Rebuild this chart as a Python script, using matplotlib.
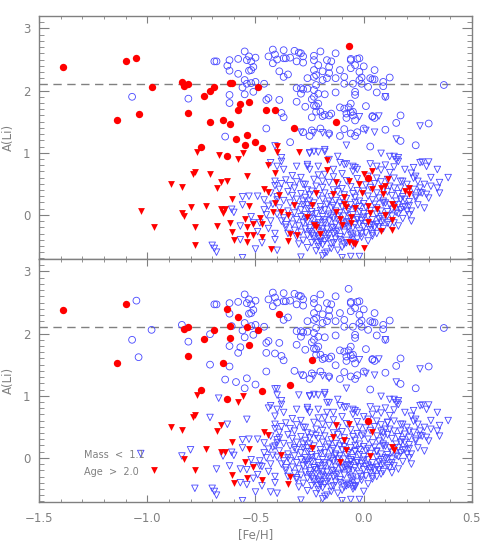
import numpy as np
import matplotlib
matplotlib.use("Agg")
import matplotlib.pyplot as plt
from matplotlib.ticker import MultipleLocator

# --- data ([Fe/H], A(Li)) ---
# detections (circles)
circ_red_both = np.array([
    (-1.39, 2.38), (-1.10, 2.47), (-1.14, 1.53), (-0.83, 2.07), (-0.81, 2.11),
    (-0.81, 1.64), (-0.74, 1.91), (-0.69, 2.05), (-0.65, 1.53), (-0.62, 2.12),
    (-0.53, 1.82), (-0.75, 1.10), (-0.63, 0.94), (-0.49, 2.05), (-0.47, 1.08),
    (0.02, 0.60),
])
circ_red_top = np.array([
    (-1.05, 2.53), (-1.04, 1.62), (-0.98, 2.06), (-0.84, 2.14), (-0.71, 1.99),
    (-0.71, 1.50), (-0.62, 1.47), (-0.61, 2.12), (-0.57, 1.78), (-0.58, 1.69),
    (-0.59, 1.22), (-0.54, 1.28), (-0.55, 1.12), (-0.50, 1.18), (-0.45, 1.69),
    (-0.41, 1.68), (-0.32, 1.40), (-0.07, 2.72), (-0.13, 1.49),
])
circ_red_bot = np.array([
    (-0.63, 2.40), (-0.58, 2.27), (-0.62, 1.93), (-0.54, 2.11), (-0.39, 2.31),
    (-0.24, 1.57), (-0.34, 1.17),
])
circ_blue = np.array([
    (-1.07, 1.90), (-0.81, 1.87), (-0.69, 2.47), (-0.68, 2.47), (-0.62, 2.49),
    (-0.62, 2.32), (-0.62, 1.80), (-0.64, 1.26), (-0.58, 2.51), (-0.55, 2.63),
    (-0.54, 2.49), (-0.55, 2.17), (-0.56, 2.05), (-0.53, 2.32), (-0.53, 2.55),
    (-0.52, 2.47), (-0.50, 2.53), (-0.52, 2.33), (-0.51, 2.38), (-0.52, 2.12),
    (-0.51, 1.98), (-0.50, 2.14), (-0.46, 2.11), (-0.44, 1.88), (-0.38, 1.64),
    (-0.37, 1.57), (-0.45, 1.39), (-0.44, 2.55), (-0.42, 2.66), (-0.41, 2.58),
    (-0.40, 2.50), (-0.42, 2.44), (-0.37, 2.65), (-0.37, 2.52), (-0.36, 2.52),
    (-0.34, 2.53), (-0.37, 2.22), (-0.35, 2.26), (-0.32, 2.64), (-0.30, 2.61),
    (-0.29, 2.60), (-0.28, 2.55), (-0.31, 2.47), (-0.28, 2.45), (-0.23, 2.56),
    (-0.26, 2.20), (-0.23, 2.33), (-0.23, 2.22), (-0.31, 2.04), (-0.29, 2.04),
    (-0.28, 2.02), (-0.26, 2.03), (-0.29, 1.95), (-0.31, 1.82), (-0.27, 1.74),
    (-0.23, 1.90), (-0.22, 1.66), (-0.28, 1.33), (-0.24, 1.36), (-0.45, 1.85),
    (-0.39, 1.85), (-0.55, 1.94), (0.37, 2.09), (0.12, 2.21), (0.09, 2.14),
    (0.09, 2.07), (0.05, 2.33), (0.04, 2.18), (0.06, 1.97), (0.01, 1.75),
    (-0.02, 2.52), (-0.00, 2.39), (-0.02, 2.17), (-0.01, 2.11), (-0.04, 2.41),
    (-0.06, 2.49), (-0.06, 2.36), (-0.04, 1.98), (-0.04, 1.93), (-0.05, 2.11),
    (-0.06, 1.79), (-0.09, 1.71), (-0.05, 1.60), (-0.04, 1.52), (0.03, 2.20),
    (0.02, 2.06), (-0.09, 2.11), (-0.09, 2.22), (-0.11, 2.33), (-0.13, 2.20),
    (-0.13, 1.97), (-0.13, 2.60), (-0.15, 2.47), (-0.17, 2.49), (-0.16, 2.38),
    (-0.16, 2.28), (-0.17, 2.20), (-0.19, 2.31), (-0.20, 2.63), (-0.23, 2.49),
    (-0.21, 2.41), (-0.22, 2.25), (-0.19, 2.17), (-0.22, 2.09), (-0.23, 2.01),
    (-0.21, 1.95), (-0.18, 1.94), (-0.21, 1.79), (-0.22, 1.75), (-0.20, 1.66),
    (-0.18, 1.61), (-0.15, 1.63), (-0.08, 1.63), (-0.05, 1.66), (0.17, 1.60),
    (0.15, 1.48), (0.30, 1.47), (0.10, 1.37), (-0.20, 1.39), (-0.16, 1.31),
    (-0.09, 1.38), (-0.06, 1.31), (-0.03, 1.33), (0.00, 1.39), (0.04, 1.58),
    (0.10, 1.90), (0.24, 1.12), (0.17, 1.19), (0.03, 1.10), (-0.04, 1.27),
    (-0.11, 1.27), (-0.25, 1.27), (-0.06, 2.51), (-0.03, 2.51), (-0.02, 2.30),
    (-0.01, 2.21), (0.05, 2.18), (-0.24, 1.86), (-0.23, 1.76), (-0.11, 1.73),
    (-0.07, 1.73), (-0.06, 1.65), (-0.19, 1.59), (-0.16, 1.60), (0.04, 1.59),
    (0.05, 1.56), (-0.08, 1.56),
])

# upper limits (triangles)
tri_red_both = np.array([
    (-0.97, -0.20), (-0.89, 0.50), (-0.84, 0.45), (-0.83, -0.02), (-0.78, -0.20),
    (-0.79, 0.65), (-0.78, 0.69), (-0.77, 1.01), (-0.73, 0.14), (-0.68, 0.43),
    (-0.66, 0.53), (-0.66, 0.10), (-0.64, 0.10), (-0.61, 0.25), (-0.61, -0.27),
    (-0.60, -0.40), (-0.56, 0.99), (-0.58, 0.90), (-0.55, -0.06), (-0.54, -0.33),
    (-0.53, 0.14), (-0.51, -0.14), (-0.47, -0.35), (-0.46, 0.42), (-0.44, 0.37),
    (-0.38, 0.05), (-0.34, -0.30), (-0.35, -0.42), (-0.24, 0.16), (-0.13, 0.53),
    (-0.07, 0.54), (-0.14, 0.33), (-0.09, 0.29), (-0.08, 0.12), (-0.11, -0.07),
    (0.04, 0.42), (0.03, 0.03), (0.13, 0.17), (0.14, 0.13),
])
tri_red_top = np.array([
    (-1.03, 0.07), (-0.84, 0.03), (-0.80, 0.13), (-0.78, -0.49), (-0.71, 0.65),
    (-0.68, -0.18), (-0.67, 0.96), (-0.63, 0.54), (-0.62, -0.13), (-0.54, 0.62),
    (-0.54, -0.19), (-0.54, -0.43), (-0.65, 0.03), (-0.51, -0.33), (-0.48, -0.05),
    (-0.47, -0.14), (-0.44, 0.80), (-0.43, -0.55), (-0.42, 0.04), (-0.41, 0.67),
    (-0.40, 1.11), (-0.40, 1.01), (-0.41, 0.19), (-0.39, 0.32), (-0.35, 0.00),
    (-0.32, 0.16), (-0.31, -0.32), (-0.30, 1.01), (-0.26, -0.04), (-0.23, -0.16),
    (-0.17, 0.89), (-0.17, 0.73), (-0.22, 0.36), (0.00, 0.66), (-0.02, 0.49),
    (-0.01, 0.35), (0.08, 0.43), (0.09, 0.33), (0.11, 0.57), (0.10, 0.46),
    (-0.09, 0.18), (-0.13, 0.04), (-0.10, -0.16), (-0.06, -0.03), (-0.06, -0.13),
    (-0.04, 0.11), (0.02, 0.15), (0.02, -0.12), (0.06, 0.10), (0.08, -0.26),
    (0.10, 0.00), (0.13, -0.08), (0.13, -0.24), (0.21, 0.43), (0.19, 0.38),
    (0.21, 0.33), (-0.20, -0.31), (-0.07, -0.43), (-0.05, -0.46), (-0.00, -0.54),
    (-0.22, -0.19), (0.04, 0.70), (-0.04, -0.47),
])
tri_blue = np.array([
    # scattered upper part
    (-0.29, 1.33), (-0.23, 1.32), (-0.16, 1.28), (-0.08, 1.12), (-0.02, 1.58),
    (0.07, 1.59), (0.26, 1.43), (0.10, 1.90), (0.05, 1.33), (0.01, 1.36),
    (-0.19, 1.32), (0.15, 1.22), (-0.41, 1.11), (-0.38, 0.92), (-0.38, 0.86),
    (-0.25, 0.99), (-0.21, 1.01), (-0.18, 1.02), (-0.16, 0.89), (-0.12, 0.94),
    (0.08, 0.99), (0.12, 0.94), (0.14, 0.94), (0.16, 0.86), (0.27, 0.85),
    (0.30, 0.85), (-0.18, 1.05), (-0.23, 1.02), (-0.09, 0.81), (-0.08, 0.82),
    (-0.05, 0.78), (-0.04, 0.76), (-0.05, 0.70), (0.03, 0.82), (0.06, 0.78),
    (0.10, 0.80), (0.14, 0.77), (0.16, 0.92), (0.11, 0.57), (0.14, 0.59),
    (0.17, 0.54), (0.17, 0.43), (0.23, 0.59), (0.25, 0.54), (0.24, 0.62),
    (0.29, 0.78), (0.34, 0.73), (0.39, 0.60), (0.28, 0.49), (0.30, 0.27),
    (0.29, 0.33), (0.34, 0.43), (0.35, 0.35), (0.25, 0.16), (0.28, 0.11),
    (0.20, 0.06), (0.22, 0.06), (0.12, 0.16), (0.15, 0.22), (0.09, 0.19),
    (0.11, 0.05), (0.08, -0.03), (0.12, -0.16), (0.14, -0.13), (-0.18, 0.65),
    (-0.19, 0.54), (0.04, -0.16), (0.07, -0.19), (0.04, -0.30),
    (0.35, 0.52), (0.31, 0.46), (0.23, 0.76), (0.22, 0.67), (0.19, 0.73),
    (0.18, 0.54), (0.26, 0.43), (0.27, 0.35), (0.15, 0.89), (0.26, 0.84),
    (0.21, 0.15), (0.17, 0.08), (0.18, -0.06), (0.22, -0.10), (0.24, 0.30),
    (0.19, 0.25), (0.31, 0.60), (0.12, 0.68), (0.08, 0.72),
    (-0.43, 0.84), (-0.40, 0.78), (-0.37, 0.73), (-0.31, 0.78), (-0.26, 0.81),
    (-0.25, 0.73), (-0.21, 0.78), (-0.14, 0.73), (-0.11, 0.84), (-0.03, 0.73),
    (-0.27, 0.49), (-0.25, 0.32), (-0.26, 0.78), (-0.25, 1.00),
    # left part
    (-0.70, -0.49), (-0.69, -0.54), (-0.68, -0.60), (-0.56, 0.16), (-0.53, 0.30),
    (-0.56, -0.69), (-0.49, 0.30), (-0.46, 0.24), (-0.52, -0.03), (-0.51, -0.13),
    (-0.46, 0.08), (-0.45, 0.00), (-0.48, -0.13), (-0.41, 0.54), (-0.38, 0.50),
    (-0.41, 0.47), (-0.41, -0.30), (-0.41, -0.40), (-0.40, -0.57), (-0.37, -0.05),
    (-0.36, -0.16), (-0.61, 0.09), (-0.56, 0.29), (-0.57, -0.40), (-0.60, 0.04),
    (-0.47, -0.45), (-0.50, -0.55), (-0.44, -0.22), (-0.43, -0.10), (-0.49, -0.27),
    (-0.44, 0.14), (-0.40, 0.24), (-0.57, -0.18),
    # dense core
    (-0.33, 0.63), (-0.29, 0.60), (-0.21, 0.64), (-0.14, 0.61), (-0.10, 0.66),
    (0.02, 0.62), (0.06, 0.59),
    (-0.36, 0.56), (-0.31, 0.53), (-0.23, 0.57), (-0.16, 0.52), (-0.08, 0.55),
    (-0.03, 0.58), (0.08, 0.53),
    (-0.34, 0.47), (-0.28, 0.49), (-0.22, 0.46), (-0.12, 0.49), (-0.06, 0.45),
    (0.01, 0.48), (0.05, 0.50), (0.12, 0.46), (0.20, 0.49),
    (-0.39, 0.41), (-0.32, 0.43), (-0.26, 0.40), (-0.19, 0.44), (-0.14, 0.40),
    (-0.10, 0.42), (-0.03, 0.39), (0.03, 0.44), (0.09, 0.40), (0.14, 0.43),
    (0.23, 0.41),
    (-0.43, 0.35), (-0.35, 0.37), (-0.29, 0.34), (-0.24, 0.38), (-0.18, 0.35),
    (-0.12, 0.37), (-0.05, 0.34), (0.00, 0.38), (0.06, 0.35), (0.11, 0.37),
    (0.16, 0.34), (0.26, 0.36),
    (-0.40, 0.29), (-0.33, 0.31), (-0.27, 0.28), (-0.21, 0.31), (-0.15, 0.29),
    (-0.09, 0.32), (-0.04, 0.28), (0.02, 0.30), (0.07, 0.27), (0.13, 0.31),
    (0.18, 0.29), (0.24, 0.27),
    (-0.37, 0.23), (-0.31, 0.25), (-0.25, 0.22), (-0.19, 0.25), (-0.13, 0.23),
    (-0.08, 0.26), (-0.02, 0.22), (0.04, 0.24), (0.09, 0.22), (0.17, 0.25),
    (0.21, 0.21),
    (-0.42, 0.17), (-0.34, 0.19), (-0.28, 0.16), (-0.23, 0.19), (-0.17, 0.17),
    (-0.11, 0.19), (-0.06, 0.16), (0.00, 0.18), (0.05, 0.17), (0.10, 0.19),
    (0.16, 0.16), (0.19, 0.13),
    (-0.39, 0.11), (-0.31, 0.13), (-0.26, 0.10), (-0.20, 0.13), (-0.15, 0.11),
    (-0.10, 0.13), (-0.04, 0.10), (0.01, 0.12), (0.06, 0.11), (0.13, 0.09),
    (0.18, 0.12),
    (-0.35, 0.06), (-0.29, 0.08), (-0.24, 0.05), (-0.18, 0.08), (-0.13, 0.06),
    (-0.07, 0.08), (-0.02, 0.05), (0.03, 0.07), (0.08, 0.06), (0.15, 0.04),
    (-0.40, 0.01), (-0.32, 0.03), (-0.27, 0.00), (-0.22, 0.02), (-0.16, 0.01),
    (-0.11, 0.03), (-0.05, 0.00), (0.00, 0.02), (0.06, 0.01), (0.11, -0.01),
    (0.16, 0.02), (0.21, 0.00),
    (-0.34, -0.05), (-0.29, -0.03), (-0.24, -0.06), (-0.19, -0.03), (-0.14, -0.05),
    (-0.09, -0.02), (-0.03, -0.05), (0.02, -0.03), (0.07, -0.06), (0.13, -0.02),
    (-0.38, -0.10), (-0.31, -0.08), (-0.26, -0.11), (-0.21, -0.08), (-0.16, -0.10),
    (-0.12, -0.08), (-0.07, -0.11), (-0.01, -0.09), (0.04, -0.08), (0.09, -0.10),
    (-0.33, -0.15), (-0.28, -0.13), (-0.23, -0.16), (-0.18, -0.13), (-0.13, -0.15),
    (-0.08, -0.13), (-0.04, -0.16), (0.01, -0.14), (0.06, -0.15), (0.11, -0.13),
    (-0.36, -0.20), (-0.30, -0.18), (-0.25, -0.21), (-0.20, -0.18), (-0.15, -0.20),
    (-0.10, -0.18), (-0.05, -0.21), (0.00, -0.19), (0.05, -0.20), (0.16, -0.18),
    (-0.32, -0.25), (-0.27, -0.23), (-0.22, -0.26), (-0.17, -0.23), (-0.12, -0.25),
    (-0.07, -0.23), (-0.02, -0.26), (0.03, -0.24), (0.09, -0.22),
    (-0.35, -0.30), (-0.29, -0.28), (-0.24, -0.31), (-0.19, -0.28), (-0.14, -0.30),
    (-0.09, -0.28), (-0.05, -0.31), (0.01, -0.29), (0.06, -0.30),
    (-0.31, -0.35), (-0.26, -0.33), (-0.21, -0.36), (-0.16, -0.33), (-0.11, -0.35),
    (-0.06, -0.33), (-0.01, -0.36), (0.04, -0.34),
    (-0.28, -0.41), (-0.23, -0.39), (-0.18, -0.42), (-0.13, -0.39), (-0.08, -0.41),
    (-0.03, -0.39), (0.02, -0.42),
    (-0.30, -0.47), (-0.24, -0.45), (-0.19, -0.48), (-0.14, -0.45), (-0.09, -0.47),
    (-0.04, -0.45),
    (-0.26, -0.53), (-0.21, -0.51), (-0.15, -0.54), (-0.10, -0.52), (-0.05, -0.50),
    (-0.22, -0.58), (-0.17, -0.60), (-0.12, -0.57), (-0.17, -0.38), (-0.20, -0.43),
    (-0.18, -0.62), (-0.06, -0.67),
    (-0.29, -0.68), (-0.19, -0.66), (-0.10, -0.69), (-0.02, -0.67),
    # crowded centre of the core
    (-0.26, 0.16), (-0.20, 0.07), (-0.14, 0.15), (-0.08, 0.05), (-0.02, 0.13),
    (-0.27, -0.07), (-0.21, -0.13), (-0.15, -0.02), (-0.09, -0.15), (-0.03, -0.08),
    (0.03, -0.17), (-0.25, -0.27), (-0.19, -0.22), (-0.13, -0.27), (-0.07, -0.19),
    (-0.01, -0.30), (-0.23, -0.34), (-0.17, -0.30), (-0.11, -0.40), (-0.05, -0.36),
    (-0.15, -0.47), (-0.08, -0.45), (-0.21, -0.45), (-0.24, 0.00), (-0.18, -0.08),
    (-0.12, -0.02), (-0.06, -0.06), (0.00, -0.04), (-0.16, 0.22), (-0.10, 0.26),
    (-0.04, 0.20), (-0.28, 0.22), (-0.20, -0.38), (-0.14, -0.21), (-0.02, -0.14),
    (0.08, -0.12),
])

li_plateau = 2.1
legend_lines = ["Mass  <  1.1", "Age  >  2.0"]

blue = "#4747ff"
red = "#ff0000"
gray = "#808080"

fig, axes = plt.subplots(2, 1, figsize=(4.91, 5.52), dpi=100, sharex=True)
fig.subplots_adjust(left=0.0794, right=0.9613, top=0.971, bottom=0.0906, hspace=0)


def panel(ax, c_blue, c_red, t_blue, t_red):
    ax.scatter(c_blue[:, 0], c_blue[:, 1], s=24, marker="o", facecolors="none",
               edgecolors=blue, linewidths=0.6, zorder=2)
    ax.scatter(t_blue[:, 0], t_blue[:, 1], s=22, marker="v", facecolors="none",
               edgecolors=blue, linewidths=0.6, zorder=2)
    ax.scatter(t_red[:, 0], t_red[:, 1], s=24, marker="v", color=red,
               linewidths=0, zorder=3)
    ax.scatter(c_red[:, 0], c_red[:, 1], s=28, marker="o", color=red,
               linewidths=0, zorder=3)
    ax.axhline(li_plateau, color=gray, linestyle=(0, (6, 4)), linewidth=1.0, zorder=1)
    ax.set_xlim(-1.5, 0.5)
    ax.set_ylim(-0.71, 3.2)
    ax.xaxis.set_major_locator(MultipleLocator(0.5))
    ax.xaxis.set_minor_locator(MultipleLocator(0.1))
    ax.yaxis.set_major_locator(MultipleLocator(1))
    ax.yaxis.set_minor_locator(MultipleLocator(0.1))
    ax.tick_params(which="both", direction="in", top=True, right=True,
                   color=gray, labelcolor=gray, labelsize=8.5)
    ax.tick_params(axis="y", which="major", length=7, pad=6)
    ax.tick_params(axis="y", which="minor", length=3.5)
    ax.tick_params(axis="x", which="major", length=5, pad=7)
    ax.tick_params(axis="x", which="minor", length=2.5)
    for sp in ax.spines.values():
        sp.set_color(gray)
        sp.set_linewidth(1.0)
    ax.set_ylabel("A(Li)", color=gray, fontsize=8.5, labelpad=6)


# top: Age selection in red
panel(axes[0],
      np.vstack([circ_blue, circ_red_bot]),
      np.vstack([circ_red_both, circ_red_top]),
      tri_blue,
      np.vstack([tri_red_both, tri_red_top]))

# bottom: Mass and Age selection in red
panel(axes[1],
      np.vstack([circ_blue, circ_red_top]),
      np.vstack([circ_red_both, circ_red_bot]),
      np.vstack([tri_blue, tri_red_top]),
      tri_red_both)

axes[1].set_xlabel("[Fe/H]", color=gray, fontsize=8.5, labelpad=3)
axes[1].text(-1.29, 0.05, legend_lines[0], color=gray, fontsize=7, va="center")
axes[1].text(-1.29, -0.22, legend_lines[1], color=gray, fontsize=7, va="center")

fig.savefig("out.png", dpi=100)
